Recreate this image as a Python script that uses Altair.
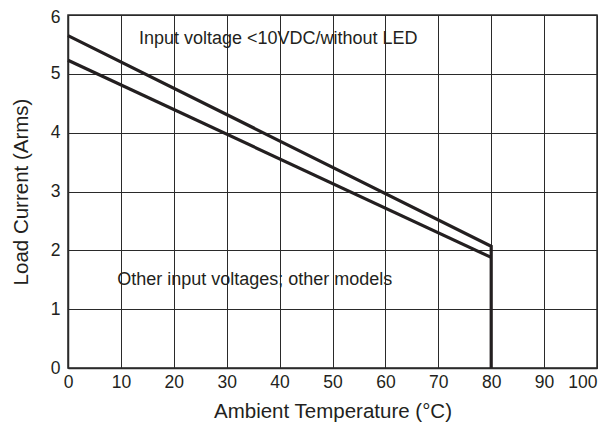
import altair as alt
import pandas as pd

# Data
top_x = [0, 80, 80]
top_y = [5.65, 2.07, 0.0]
bottom_x = [0, 80]
bottom_y = [5.23, 1.88]

label_text = ["Input voltage <10VDC/without LED", "Other input voltages; other models"]
label_x = [13.4, 9.3]
label_y = [5.6, 1.49]

x_ticks = list(range(0, 101, 10))
y_ticks = [0, 1, 2, 3, 4, 5, 6]

rows = []
for i, (x, y) in enumerate(zip(top_x, top_y)):
    rows.append({"series": "top", "order": i, "x": x, "y": y})
for i, (x, y) in enumerate(zip(bottom_x, bottom_y)):
    rows.append({"series": "bottom", "order": i, "x": x, "y": y})
df = pd.DataFrame(rows)
labels = pd.DataFrame({"text": label_text, "x": label_x, "y": label_y})

FONT = "Liberation Sans, Arial"
INK = "#231f20"

xs = alt.Scale(domain=[0, 100], nice=False)
ys = alt.Scale(domain=[0, 6], nice=False)

lines = alt.Chart(df).mark_line(color=INK, strokeWidth=3.2, strokeJoin="miter").encode(
    x=alt.X("x:Q", scale=xs,
            axis=alt.Axis(values=x_ticks, format="d", title="Ambient Temperature (°C)", ticks=False,
                          labelFlush=False,
                          labelAlign=alt.condition("datum.value == 100", alt.value("right"), alt.value("center")),
                          labelPadding=5, titlePadding=11, grid=True)),
    y=alt.Y("y:Q", scale=ys,
            axis=alt.Axis(values=y_ticks, format="d", title="Load Current (Arms)", ticks=False,
                          labelFlush=False,
                          labelOffset=alt.condition("datum.value == 6", alt.value(2.5), alt.value(0)),
                          labelPadding=8, titlePadding=19, grid=True)),
    detail="series:N",
    order="order:Q",
)

texts = alt.Chart(labels).mark_text(align="left", baseline="middle", font=FONT,
                                    fontSize=18, color=INK).encode(
    x=alt.X("x:Q", scale=xs),
    y=alt.Y("y:Q", scale=ys),
    text="text:N",
)

chart = alt.layer(lines, texts).properties(
    width=529, height=353,
    autosize=alt.AutoSizeParams(type="none"),
    padding={"left": 60, "top": 7, "right": 7, "bottom": 56},
).configure_axis(
    gridColor="#2a2a2a", gridWidth=1, gridOpacity=1,
    domainColor="#2a2a2a", domainWidth=1.5,
    labelFont=FONT, labelFontSize=17.5, labelColor=INK,
    titleFont=FONT, titleFontSize=20.5, titleFontWeight="normal", titleColor=INK,
).configure_view(stroke="#2a2a2a", strokeWidth=1.5)

chart.save("out.html", embed_options={"renderer": "svg", "actions": False})
